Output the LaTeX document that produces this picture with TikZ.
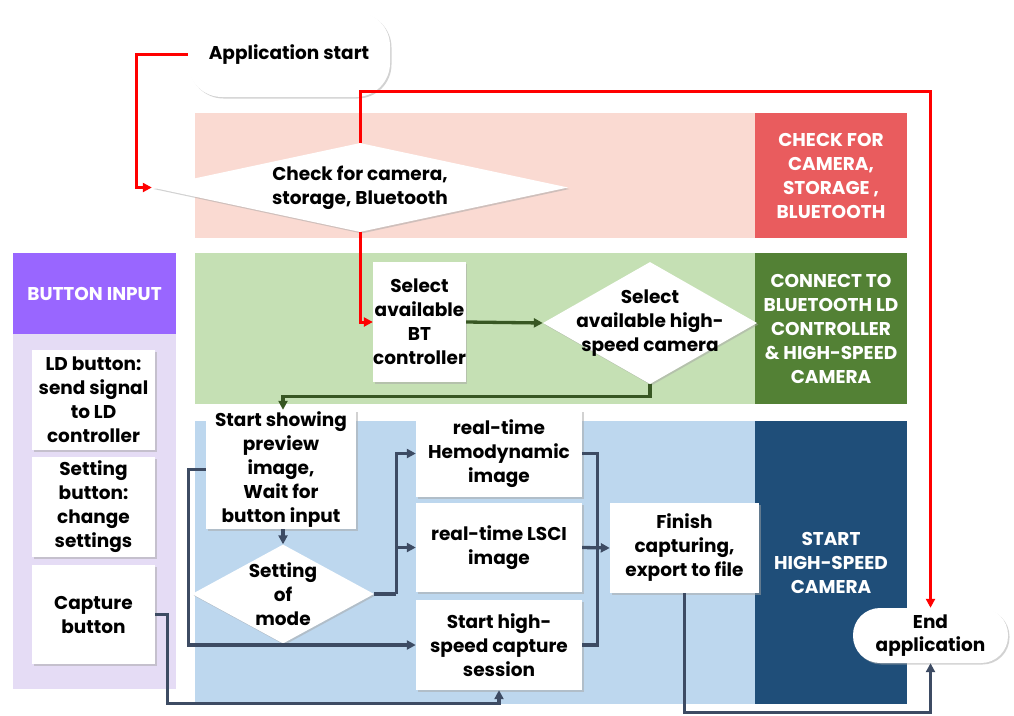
\documentclass[tikz,border=0pt]{standalone}
\usepackage{fontspec}
\setmainfont{Poppins}
\usetikzlibrary{arrows.meta,shapes.geometric,shadows}
\definecolor{pinkband}{HTML}{FADAD2}
\definecolor{redlab}{HTML}{E95C5E}
\definecolor{greenband}{HTML}{C5E0B4}
\definecolor{greenlab}{HTML}{538135}
\definecolor{blueband}{HTML}{BDD7EE}
\definecolor{bluelab}{HTML}{1F4E79}
\definecolor{purplehead}{HTML}{9966FF}
\definecolor{lavender}{HTML}{E5DCF5}
\definecolor{linegray}{HTML}{3D4B63}
\definecolor{linegreen}{HTML}{385723}
\definecolor{linered}{HTML}{FF0000}
\begin{document}
\begin{tikzpicture}[x=1pt,y=-1pt,
  txt/.style={font=\fontsize{18.5}{24}\selectfont\bfseries, align=center, text=black},
  labtxt/.style={font=\fontsize{18.5}{24}\selectfont\bfseries, align=center, text=white, inner sep=0},
  shad/.style={drop shadow={shadow xshift=1.5pt, shadow yshift=-1.5pt, fill=black!35, opacity=0.5}},
  box/.style={txt, rectangle, fill=white, inner sep=0, shad},
  pill/.style={box},
  dia/.style={diamond, fill=white, inner sep=0, shad},
  redarr/.style={draw=linered, line width=3pt, -{Triangle[length=9pt,width=9pt]}},
  grnarr/.style={draw=linegreen, line width=3.3pt, -{Triangle[length=9pt,width=9pt]}},
  gryarr/.style={draw=linegray, line width=3.3pt, -{Triangle[length=9pt,width=9pt]}},
  gryline/.style={draw=linegray, line width=3.3pt},
]
\useasboundingbox (0,0) rectangle (1014,715);
\fill[white] (0,0) rectangle (1014,715);

% bands
\fill[pinkband] (195,113) rectangle (907,238);
\fill[greenband] (195,253) rectangle (907,404);
\fill[blueband] (195,421) rectangle (907,704);
\fill[lavender] (13,334) rectangle (176,689);

% label boxes
\node[labtxt, fill=redlab, minimum width=152, minimum height=125] (labred) at (831,175.5) {CHECK FOR\\CAMERA,\\STORAGE ,\\BLUETOOTH};
\node[labtxt, fill=greenlab, minimum width=152, minimum height=151] (labgreen) at (831,328.5) {CONNECT TO\\BLUETOOTH LD\\CONTROLLER\\\& HIGH-SPEED\\CAMERA};
\node[labtxt, fill=bluelab, minimum width=152, minimum height=283] (labblue) at (831,562.5) {START\\HIGH-SPEED\\CAMERA};
\node[labtxt, fill=purplehead, minimum width=163, minimum height=81] (labpurple) at (94.5,293.5) {BUTTON INPUT};

% nodes
\node[pill, rounded corners=34pt, minimum width=202, minimum height=85] (app) at (289,54.5) {Application start};
\node[dia, minimum width=416, minimum height=89, label={[txt]center:{Check for camera,\\storage, Bluetooth}}] (d1) at (360,187.5) {};
\node[box, minimum width=87, minimum height=120] (bt) at (419.5,322) {Select\\available\\BT\\controller};
\node[dia, minimum width=214, minimum height=122, label={[txt]center:{Select\\available high-\\speed camera}}] (d2) at (650,323) {};
\node[box, minimum width=150, minimum height=119] (prev) at (281,469.5) {Start showing\\preview\\image,\\Wait for\\button input};
\node[dia, minimum width=182, minimum height=99, label={[txt]center:{Setting\\of\\mode}}] (mode) at (283,594) {};
\node[box, minimum width=166, minimum height=87] (hemo) at (499,453.5) {real-time\\Hemodynamic\\image};
\node[box, minimum width=166, minimum height=89] (lsci) at (499,547.5) {real-time LSCI\\image};
\node[box, minimum width=166, minimum height=90] (hs) at (499,645) {Start high-\\speed capture\\session};
\node[box, minimum width=149, minimum height=90] (fin) at (684.5,548) {Finish\\capturing,\\export to file};
\node[pill, rounded corners=27pt, minimum width=155, minimum height=55, font=\fontsize{18.5}{23}\selectfont\bfseries] (endapp) at (930.5,635.5) {End\\application};
\node[box, minimum width=123, minimum height=100] (ld) at (93.5,400) {LD button:\\send signal\\to LD\\controller};
\node[box, minimum width=123, minimum height=100] (setb) at (93.5,507) {Setting\\button:\\change\\settings};
\node[box, minimum width=123, minimum height=99] (cap) at (93.5,614.5) {Capture\\button};

% red connectors
\draw[redarr] (app.west) -- ([xshift=-51pt]app.west) |- (d1.west);
\draw[redarr] (d1.north) -- ++(0,-51) -| (endapp.north);
\draw[redarr] (d1.south) |- (bt.west);

% green connectors
\draw[grnarr] (bt.east) -- (d2.west);
\draw[grnarr] (d2.south) -- ++(0,12) -| ([xshift=2pt]prev.north);

% gray connectors
\draw[gryarr] ([xshift=2pt]prev.south) -- (mode.north);
\coordinate (mj) at ([xshift=22pt]mode.east);
\draw[gryline] (mode.east) -- (mj);
\draw[gryarr] (mj) |- (hemo.west);
\draw[gryarr] (mj) |- (lsci.west);
\draw[gryarr] (prev.west) -- ++(-17,0) |- (hs.west);
\coordinate (rj) at ([xshift=15pt]lsci.east);
\draw[gryline] (hemo.east) -| (rj);
\draw[gryline] (hs.east) -| (rj);
\draw[gryarr] (lsci.east) -- (fin.west);
\draw[gryarr] (fin.south) -- ++(0,119) -| (endapp.south);
\draw[gryarr] (cap.east) -- ++(12,0) -- ++(0,89) -| (hs.south);
\end{tikzpicture}
\end{document}
